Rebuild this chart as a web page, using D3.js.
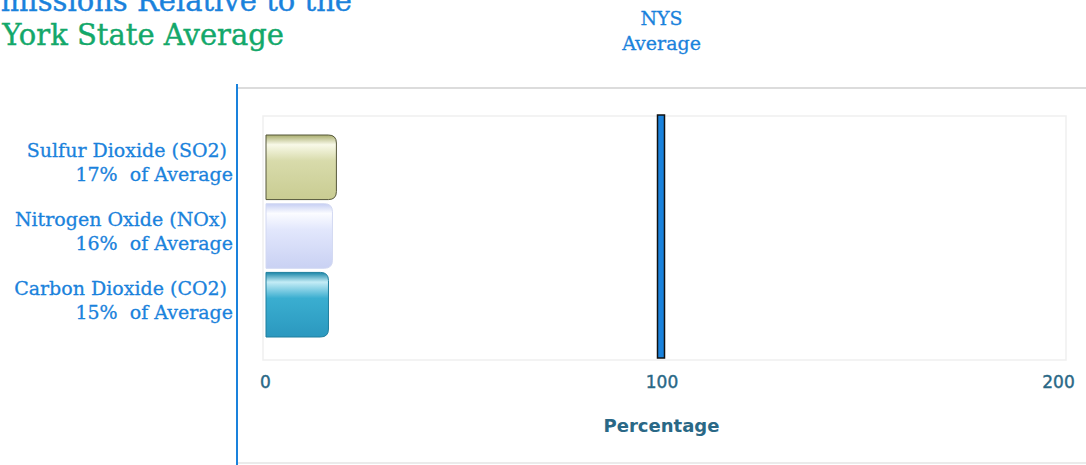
<!DOCTYPE html>
<html>
<head>
<meta charset="utf-8">
<script src="https://cdn.jsdelivr.net/npm/d3@7"></script>
<style>
  body { margin: 0; background: #fff; }
  svg { display: block; }
  .serif { font-family: "DejaVu Serif", serif; }
</style>
</head>
<body>
<div id="root"></div>
<script>
// chart data
const pollutants = ["Sulfur Dioxide (SO2)", "Nitrogen Oxide (NOx)", "Carbon Dioxide (CO2)"];
const pctOfAverage = [17, 16, 15];
const nysAverage = 100;
const xTicks = [0, 100, 200];

const width = 1086, height = 465;
const blue = "#1a82dc";
const tickColor = "#2a6886";

const svg = d3.select("#root").append("svg")
  .attr("width", width)
  .attr("height", height);

const defs = svg.append("defs");
const grads = [
  ["g0", "#a9ad6e", "#f8f9e8", "#d8dbab", "#c9cc92"],
  ["g1", "#c6cff3", "#fbfcff", "#e2e7fc", "#c9d1f3"],
  ["g2", "#1a86a8", "#c4ecf6", "#3aaed0", "#2b98bf"]
];
grads.forEach(g => {
  const lg = defs.append("linearGradient").attr("id", g[0])
    .attr("x1", 0).attr("y1", 0).attr("x2", 0).attr("y2", 1);
  lg.append("stop").attr("offset", "0%").attr("stop-color", g[1]);
  lg.append("stop").attr("offset", "15%").attr("stop-color", g[2]);
  lg.append("stop").attr("offset", "40%").attr("stop-color", g[3]);
  lg.append("stop").attr("offset", "100%").attr("stop-color", g[4]);
});

// title (cropped at left edge in the source)
svg.append("text")
  .attr("class", "serif")
  .attr("x", 352).attr("y", 11)
  .attr("text-anchor", "end")
  .attr("font-size", 29)
  .attr("fill", blue).attr("stroke", blue).attr("stroke-width", 0.4)
  .text("Emissions Relative to the");
svg.append("text")
  .attr("class", "serif")
  .attr("x", 284).attr("y", 45)
  .attr("text-anchor", "end")
  .attr("font-size", 29)
  .attr("fill", "#13a86a").attr("stroke", "#13a86a").attr("stroke-width", 0.4)
  .text("New York State Average");

// frame lines
svg.append("line").attr("x1", 237).attr("x2", 237).attr("y1", 84).attr("y2", 465)
  .attr("stroke", blue).attr("stroke-width", 2);
svg.append("line").attr("x1", 238).attr("x2", width).attr("y1", 88).attr("y2", 88)
  .attr("stroke", "#dcdcdc").attr("stroke-width", 2);
svg.append("line").attr("x1", 238).attr("x2", width).attr("y1", 463).attr("y2", 463)
  .attr("stroke", "#e4e4e4").attr("stroke-width", 1.5);

const x = d3.scaleLinear().domain([0, 200]).range([265, 1058]);
const y = d3.scaleBand().domain(pollutants).range([135, 337]).paddingInner(0.06);

// inner plot frame
svg.append("rect")
  .attr("x", x(0) - 2).attr("y", 116)
  .attr("width", 1066 - x(0) + 2).attr("height", 244)
  .attr("fill", "none").attr("stroke", "#efefef").attr("stroke-width", 1.5);

// bars with rounded right end
const r = 8;
const barPath = (x0, x1, y0, h) => {
  const p = d3.path();
  p.moveTo(x0, y0);
  p.lineTo(x1 - r, y0);
  p.quadraticCurveTo(x1, y0, x1, y0 + r);
  p.lineTo(x1, y0 + h - r);
  p.quadraticCurveTo(x1, y0 + h, x1 - r, y0 + h);
  p.lineTo(x0, y0 + h);
  p.closePath();
  return p.toString();
};
svg.append("g").selectAll("path")
  .data(pollutants)
  .join("path")
  .attr("d", (d, i) => barPath(x(0) + 1, x(pctOfAverage[i]) + 4, y(d), y.bandwidth()))
  .attr("fill", (d, i) => `url(#g${i})`)
  .attr("stroke", (d, i) => ["#55573a", "#d2d8f2", "#1f7f9e"][i])
  .attr("stroke-width", 1);

// category labels
const labels = svg.append("g")
  .attr("class", "serif")
  .attr("font-size", 19)
  .attr("fill", blue).attr("stroke", blue).attr("stroke-width", 0.3)
  .attr("text-anchor", "end");
pollutants.forEach((d, i) => {
  const cy = y(d) + y.bandwidth() / 2;
  labels.append("text").attr("x", 227).attr("y", cy - 10).text(d);
  labels.append("text").attr("x", 233).attr("y", cy + 14).text(`${pctOfAverage[i]}%\u00a0 of Average`);
});

// NYS average marker
svg.append("rect")
  .attr("x", x(nysAverage) - 4).attr("y", 115)
  .attr("width", 7).attr("height", 243)
  .attr("fill", blue).attr("stroke", "#111").attr("stroke-width", 1.5);
svg.append("text")
  .attr("class", "serif")
  .attr("x", x(nysAverage)).attr("y", 25)
  .attr("text-anchor", "middle")
  .attr("font-size", 19).attr("fill", blue).attr("stroke", blue).attr("stroke-width", 0.3)
  .text("NYS");
svg.append("text")
  .attr("class", "serif")
  .attr("x", x(nysAverage)).attr("y", 50)
  .attr("text-anchor", "middle")
  .attr("font-size", 19).attr("fill", blue).attr("stroke", blue).attr("stroke-width", 0.3)
  .text("Average");

// x axis
const xAxis = d3.axisBottom(x).tickValues(xTicks).tickSize(0).tickPadding(14);
const gx = svg.append("g").attr("transform", "translate(0,362)").call(xAxis);
gx.select(".domain").remove();
gx.selectAll("text")
  .attr("font-family", "DejaVu Sans, sans-serif")
  .attr("font-size", 17)
  .attr("fill", tickColor)
  .attr("stroke", tickColor).attr("stroke-width", 0.4);

svg.append("text")
  .attr("x", x(100)).attr("y", 432)
  .attr("text-anchor", "middle")
  .attr("font-family", "DejaVu Sans, sans-serif")
  .attr("font-weight", "bold")
  .attr("font-size", 18)
  .attr("fill", tickColor)
  .text("Percentage");
</script>
</body>
</html>
